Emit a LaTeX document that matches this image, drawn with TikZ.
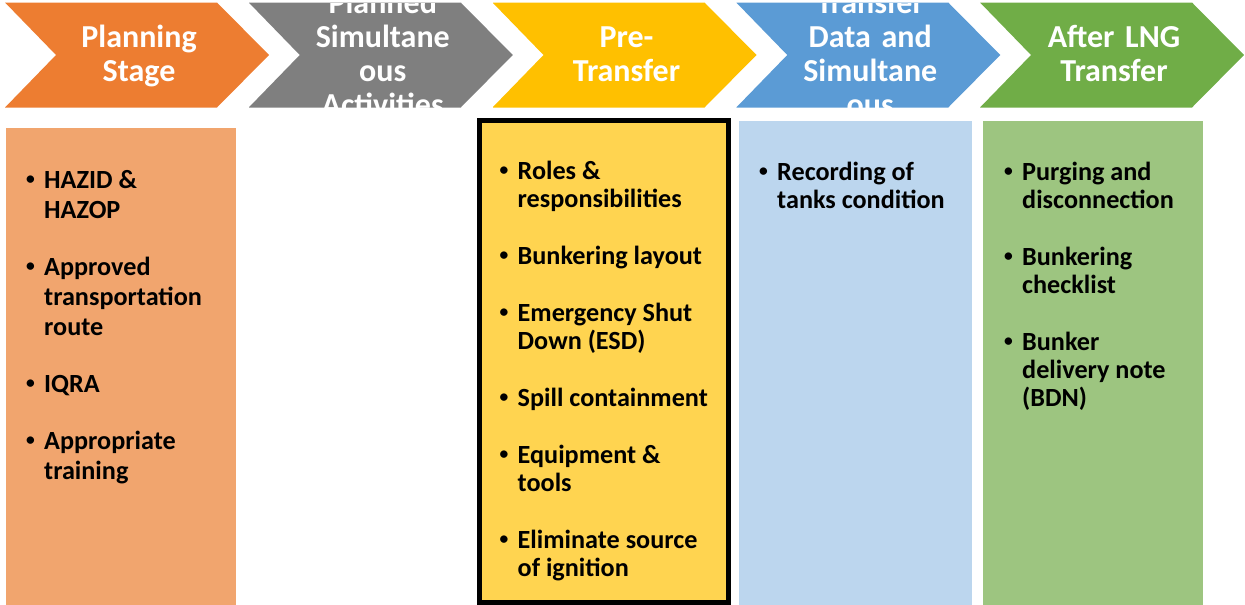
\documentclass[tikz,border=0pt]{standalone}
\usepackage{fontspec}
\setmainfont{Carlito}
\usetikzlibrary{positioning, calc}
\definecolor{cOrange}{HTML}{ED7D31}
\definecolor{cGray}{HTML}{7F7F7F}
\definecolor{cGold}{HTML}{FFC000}
\definecolor{cBlue}{HTML}{5B9BD5}
\definecolor{cGreen}{HTML}{70AD47}
\definecolor{cOrangeLt}{HTML}{F1A56E}
\definecolor{cGoldLt}{HTML}{FFD450}
\definecolor{cBlueLt}{HTML}{BCD6EE}
\definecolor{cGreenLt}{HTML}{9DC580}

% one bullet point, later lines hang under the text
\newcommand{\bitem}[1]{\par\hangindent=18pt\hangafter=1\noindent
  \makebox[18pt][l]{\raisebox{4pt}{\fontsize{17.5}{17.5}\selectfont\textbullet}}#1}
% column of bullet points, baseline on its first line
\newcommand{\itemcol}[1]{\vtop{\hsize=225pt\raggedright
  \parskip=\dimexpr57pt-\baselineskip\relax #1\par}}

\begin{document}
\begin{tikzpicture}[
  x=1pt, y=-1pt,
  stagetext/.style={
    text=white, font=\fontsize{32}{34}\selectfont\bfseries,
    align=center, text width=240pt, inner sep=0pt, anchor=base
  },
  listbox/.style={
    fill=#1, draw=none, inner sep=0pt, anchor=north west
  },
  itemlist/.style={
    font=\fontsize{26.2}{#1}\selectfont\bfseries,
    inner sep=0pt, anchor=base west
  },
  itemlist/.default=28,
]
\useasboundingbox (0,0) rectangle (1245,605);

% stage chevrons, text clipped to each arrow
\foreach \col/\ty/\txt [count=\i, evaluate=\i as \sx using 5+243.75*(\i-1)] in {
    cOrange/47/{Planning\\Stage},
    cGray/13/{Planned\\Simultane\\ous\\Activities},
    cGold/47/{Pre-\\Transfer},
    cBlue/13/{Transfer\\Data and\\Simultane\\ous},
    cGreen/47/{After LNG\\Transfer}}{
  \begin{scope}
    \path[clip] (\sx,2.5) -- ++(212,0) -- ++(52,52.5) -- ++(-52,52.5)
      -- ++(-212,0) -- ++(51,-52.5) -- cycle;
    \fill[\col] (\sx,0) rectangle ++(270,110);
    \node[stagetext] (stage\i) at (\sx+134,\ty) {\txt};
  \end{scope}
}

% planning stage
\node[listbox=cOrangeLt, minimum width=230, minimum height=477] (planbox) at (6,128) {};
\node[itemlist=30] (planitems) at ($(planbox.north west)+(20,60)$) {\itemcol{%
  \bitem{HAZID \&\newline HAZOP}
  \bitem{Approved\newline transportation\newline route}
  \bitem{IQRA}
  \bitem{Appropriate\newline training}}};

% pre-transfer
\node[listbox=cGoldLt, draw=black, line width=5pt, anchor=center,
      minimum width=249, minimum height=482] (prebox) at (604,361.5) {};
\node[itemlist] (preitems) at ($(prebox.north west)+(22.5,61)$) {\itemcol{%
  \bitem{Roles \&\newline responsibilities}
  \bitem{Bunkering layout}
  \bitem{Emergency Shut\newline Down (ESD)}
  \bitem{Spill containment}
  \bitem{Equipment \&\newline tools}
  \bitem{Eliminate source\newline of ignition}}};

% transfer data
\node[listbox=cBlueLt, minimum width=233, minimum height=484] (databox) at (739,121) {};
\node[itemlist] (dataitems) at ($(databox.north west)+(20,59)$) {\itemcol{%
  \bitem{Recording of\newline tanks condition}}};

% after transfer
\node[listbox=cGreenLt, minimum width=220, minimum height=484] (afterbox) at (983,121) {};
\node[itemlist] (afteritems) at ($(afterbox.north west)+(21,59)$) {\itemcol{%
  \bitem{Purging and\newline disconnection}
  \bitem{Bunkering\newline checklist}
  \bitem{Bunker\newline delivery note\newline (BDN)}}};

\end{tikzpicture}
\end{document}
